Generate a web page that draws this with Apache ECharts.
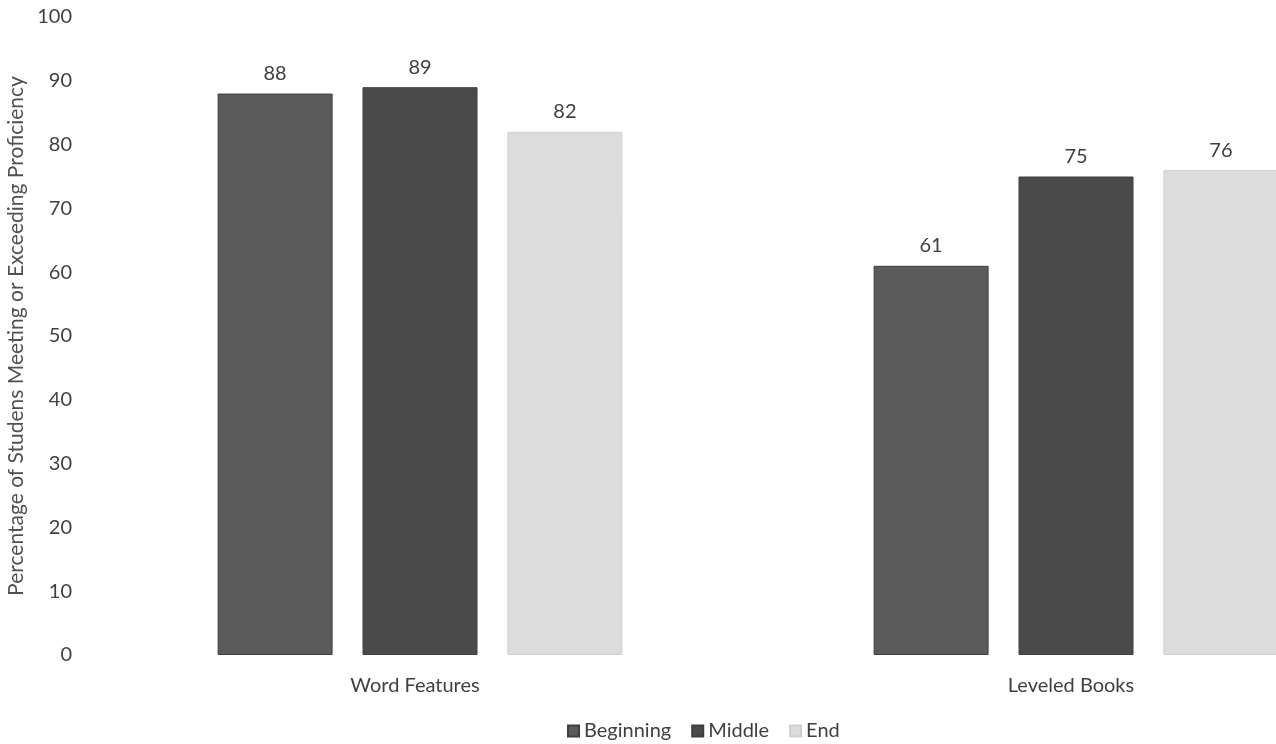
<!DOCTYPE html>
<html><head><meta charset="utf-8">
<script src="https://cdn.jsdelivr.net/npm/echarts@6/dist/echarts.min.js"></script>
<style>html,body{margin:0;padding:0;background:#fff}#c{width:1276px;height:744px}</style>
</head><body><div id="c"></div>
<script>
const categories = ["Word Features", "Leveled Books"];
const seriesNames = ["Beginning", "Middle", "End"];
const beginning = [88, 61];
const middle = [89, 75];
const end = [82, 76];
const yTicks = [0, 10, 20, 30, 40, 50, 60, 70, 80, 90, 100];

const colors = ["#5b5b5b", "#4a4a4a", "#dcdcdc"];
const font = "Lato, 'Open Sans', sans-serif";
const chart = echarts.init(document.getElementById('c'));
const mk = (name, data, i) => ({
  name, type: 'bar', data,
  barWidth: 115, barGap: '26%',
  itemStyle: { color: colors[i], borderColor: i === 2 ? '#cfcfcf' : '#3e3e3e', borderWidth: 1 },
  label: { show: true, position: 'top', distance: 10, color: '#404040', fontSize: 20, fontFamily: font }
});
chart.setOption({
  animation: false,
  textStyle: { fontFamily: font },
  grid: { left: 92, width: 1312, top: 17, bottom: 89, containLabel: false, outerBoundsMode: 'none' },
  legend: {
    top: 716, left: 562, itemWidth: 11, itemHeight: 11, itemGap: 20,
    icon: 'rect', textStyle: { color: '#404040', fontSize: 20, fontFamily: font },
    data: seriesNames
  },
  xAxis: {
    type: 'category', data: categories,
    axisLine: { show: false }, axisTick: { show: false },
    axisLabel: { color: '#404040', fontSize: 20, margin: 21, padding: [0, 10, 0, 0], fontFamily: font }
  },
  yAxis: {
    type: 'value', min: yTicks[0], max: yTicks[yTicks.length - 1], interval: 10,
    name: 'Percentage of Studens Meeting or Exceeding Proficiency',
    nameLocation: 'middle', nameGap: 62, nameRotate: 90,
    nameTextStyle: { color: '#505050', fontSize: 21, fontFamily: font },
    splitLine: { show: false }, axisLine: { show: false }, axisTick: { show: false },
    axisLabel: { color: '#404040', fontSize: 20, margin: 20, fontFamily: font }
  },
  series: [mk(seriesNames[0], beginning, 0), mk(seriesNames[1], middle, 1), mk(seriesNames[2], end, 2)]
});
</script></body></html>
